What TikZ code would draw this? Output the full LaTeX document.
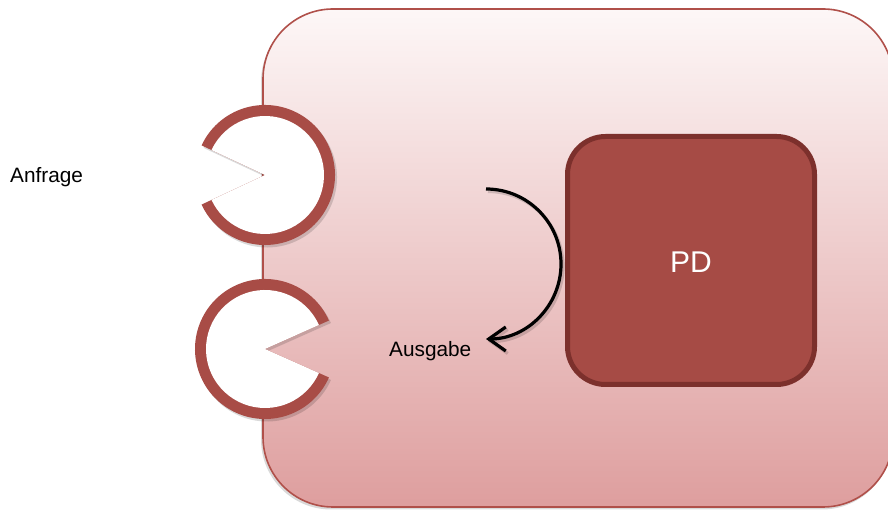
\documentclass[tikz,border=0pt]{standalone}
\usepackage{fontspec}
\setmainfont{Liberation Sans}
\usetikzlibrary{arrows.meta}
\definecolor{ringred}{RGB}{168,76,70}
\definecolor{frameline}{RGB}{176,80,74}
\definecolor{toppink}{RGB}{253,247,247}
\definecolor{botpink}{RGB}{222,158,158}
\definecolor{pdfill}{RGB}{166,75,69}
\definecolor{pdline}{RGB}{124,48,44}
\tikzset{
  lbl/.style={font=\fontsize{20.8}{24}\selectfont, inner sep=0pt, anchor=base west, text=black},
  frame/.style={draw=frameline, line width=1.6pt, rounded corners=70pt, top color=toppink, bottom color=botpink, inner sep=0pt},
  pdbox/.style={draw=pdline, fill=pdfill, line width=5pt, rounded corners=38pt, text=white, font=\fontsize{30}{36}\selectfont, inner sep=0pt, text height=24pt, text depth=0pt},
  softshadow/.style={black, opacity=0.15},
  flowarrow/.style={line width=3.2pt, -{Straight Barb[length=17pt,width=24pt,line width=3.2pt]}}
}
\begin{document}
\begin{tikzpicture}[x=1pt,y=1pt]
\useasboundingbox (0,0) rectangle (888,510);
\clip (0,0) rectangle (888,510);
% frame shadow
\fill[softshadow, rounded corners=70pt] (261,0.5) rectangle (892,498);
\node[frame, minimum width=630pt, minimum height=498pt] (sys) at (578,252) {};
% PD box
\node[pdbox, minimum width=247pt, minimum height=248pt] (pd) at (691,249.5) {PD};
% pac-man ports
\coordinate (pacA) at (265,335);
\coordinate (pacB) at (265,161);
\fill[softshadow] ([shift={(2,-2.5)}]pacA) -- ++(155:70) arc[start angle=155, end angle=-155, radius=70] -- cycle;
\fill[ringred] (pacA) -- ++(155:70) arc[start angle=155, end angle=-155, radius=70] -- cycle;
\fill[white] (pacA) -- ++(155:59) arc[start angle=155, end angle=-155, radius=59] -- cycle;
\fill[softshadow] ([shift={(2,-2.5)}]pacB) -- ++(24:70) arc[start angle=24, end angle=336, radius=70] -- cycle;
\fill[ringred] (pacB) -- ++(24:70) arc[start angle=24, end angle=336, radius=70] -- cycle;
\fill[white] (pacB) -- ++(24:59) arc[start angle=24, end angle=336, radius=59] -- cycle;
% labels
\node[lbl] (anfrage) at (10,327) {Anfrage};
\node[lbl] (ausgabe) at (389,153) {Ausgabe};
% curved arrow
\coordinate (aS) at (486,321);
\coordinate (aSsh) at (488,318.5);
\draw[flowarrow, softshadow] (aSsh) arc[start angle=90, end angle=-90, radius=75];
\draw[flowarrow] (aS) arc[start angle=90, end angle=-90, radius=75];
\end{tikzpicture}
\end{document}
